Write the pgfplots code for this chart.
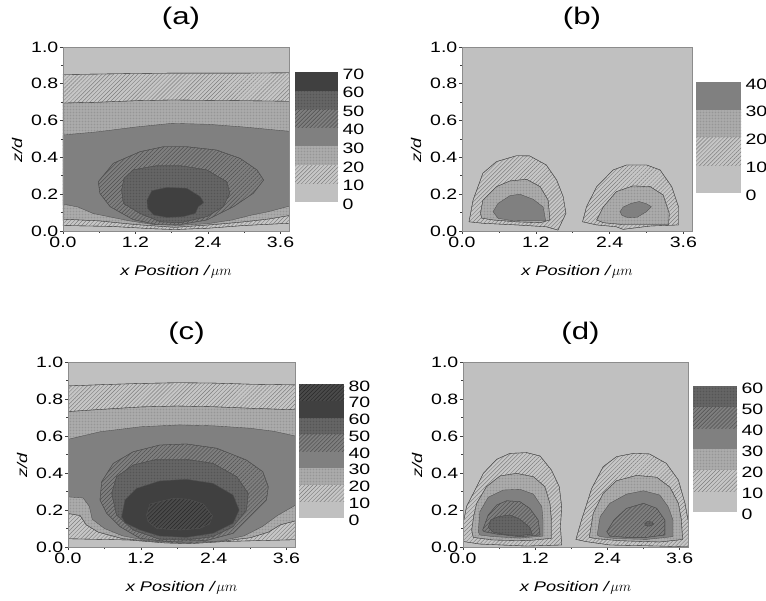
\documentclass[border=0pt]{standalone}
\usepackage{fontspec}
\setmainfont{Liberation Sans}[FakeStretch=1.3]
\usepackage{pgfplots}
\pgfplotsset{compat=1.18}
\usetikzlibrary{patterns.meta}

\definecolor{l0}{HTML}{C0C0C0}
\definecolor{l1}{HTML}{C6C6C6}
\definecolor{h1}{HTML}{7E7E7E}
\definecolor{l2}{HTML}{AEAEAE}
\definecolor{h2}{HTML}{8A8A8A}
\definecolor{l3}{HTML}{808080}
\definecolor{l4}{HTML}{7E7E7E}
\definecolor{h4}{HTML}{505050}
\definecolor{l5}{HTML}{686868}
\definecolor{h5}{HTML}{4C4C4C}
\definecolor{l6}{HTML}{404040}
\definecolor{l7}{HTML}{4A4A4A}
\definecolor{h7}{HTML}{2A2A2A}
\definecolor{cl}{HTML}{505050}
\definecolor{axgray}{HTML}{8C8C8C}

\tikzset{
  s0/.style={fill=l0},
  s1/.style={preaction={fill=l1}, pattern={Lines[angle=45,distance=2.8pt,line width=0.45pt]}, pattern color=h1},
  s2/.style={preaction={fill=l2}, pattern={Dots[distance=1.5pt,radius=0.4pt]}, pattern color=h2},
  s3/.style={fill=l3},
  s4/.style={preaction={fill=l4}, pattern={Lines[angle=45,distance=2.8pt,line width=0.5pt]}, pattern color=h4},
  s5/.style={preaction={fill=l5}, pattern={Dots[distance=1.5pt,radius=0.4pt]}, pattern color=h5},
  s6/.style={fill=l6},
  s7/.style={preaction={fill=l7}, pattern={Lines[angle=45,distance=2.8pt,line width=0.5pt]}, pattern color=h7},
  ct/.style={draw=cl, line width=0.35pt},
  bd/.style={draw=none},
}

\pgfplotsset{
  panel/.style={
    scale only axis, xmin=0, xmax=3.74, ymin=0, ymax=1,
    axis on top, axis background/.style={fill=l0},
    xtick={0,1.2,2.4,3.6}, xticklabels={0.0,1.2,2.4,3.6},
    ytick={0,0.2,0.4,0.6,0.8,1}, yticklabels={0.0,0.2,0.4,0.6,0.8,1.0},
    minor xtick={0.6,1.8,3.0}, minor ytick={0.1,0.3,0.5,0.7,0.9},
    tick align=outside, xtick pos=left, ytick pos=left,
    major tick length=3pt, minor tick length=2pt,
    axis line style={draw=axgray, line width=0.8pt},
    tick style={draw=black!75, line width=0.6pt},
    ticklabel style={font=\fontsize{15}{15}\selectfont, inner sep=1.5pt},
    xticklabel style={yshift=-1.5pt},
    xlabel={\textit{x Position /}$\mu m$},
    ylabel={\textit{z/d}},
    label style={font=\fontsize{14}{14}\selectfont},
    xlabel style={at={(axis description cs:0.5,0)}, anchor=center, yshift=-41pt},
    ylabel style={at={(axis description cs:0,0.5)}, anchor=center, yshift=46pt, xshift=-11pt},
    title style={font=\fontsize{24}{24}\selectfont, at={(axis description cs:0.5,1)}, anchor=center, yshift=23pt, xshift=5pt},
  },
  cbar/.style={
    scale only axis, xmin=0, xmax=1, ymin=0,
    axis line style={draw=none}, xtick=\empty, ytick distance=10,
    yticklabel pos=right, major tick length=0pt, tick style={draw=none},
    /pgf/number format/assume math mode=true,
    yticklabel style={font=\fontsize{15}{15}\selectfont, anchor=west, xshift=1pt, yshift=-2pt},
  },
}

\begin{document}
\begin{tikzpicture}
\path[use as bounding box] (0,0) rectangle (766pt,600pt);

% ---------- (a) ----------
\begin{axis}[panel, at={(63pt,369pt)}, anchor=south west, width=226pt, height=184pt, title={(a)}]
\addplot[s1, ct] coordinates {(-0.05,0.85) (0.6,0.853) (1.2,0.856) (1.8,0.858) (2.4,0.858) (3.0,0.858) (3.8,0.86)
  (3.8,0.043) (3.0,0.03) (2.4,0.015) (1.85,0.008) (1.5,0.012) (0.8,0.025) (-0.05,0.03)} -- cycle;
\addplot[s2, ct] coordinates {(-0.05,0.695) (0.6,0.70) (1.2,0.708) (1.8,0.712) (2.4,0.71) (3.0,0.708) (3.8,0.705)
  (3.8,0.087) (3.4,0.065) (3.0,0.05) (2.5,0.035) (1.85,0.02) (1.2,0.035) (0.6,0.055) (-0.05,0.065)} -- cycle;
\addplot[s3, ct] coordinates {(-0.05,0.52) (0.6,0.54) (1.2,0.565) (1.8,0.585) (2.4,0.58) (3.0,0.565) (3.8,0.54)
  (3.8,0.14) (3.4,0.105) (3.1,0.085) (2.8,0.06) (2.4,0.04) (1.9,0.03) (1.5,0.035) (1.1,0.055) (0.8,0.075) (0.5,0.095) (0.25,0.13) (-0.05,0.15)} -- cycle;
\addplot[s4, ct] coordinates {(0.585,0.268) (0.833,0.368) (1.275,0.431) (1.66,0.458) (2.05,0.458) (2.54,0.44) (2.93,0.395)
  (3.21,0.332) (3.32,0.277) (3.15,0.205) (2.82,0.132) (2.38,0.06) (1.94,0.035) (1.55,0.035) (1.16,0.062) (0.78,0.132) (0.61,0.205)} -- cycle;
\addplot[s5, ct] coordinates {(0.97,0.223) (1.01,0.286) (1.16,0.332) (1.55,0.355) (1.94,0.355) (2.38,0.332) (2.71,0.268)
  (2.76,0.205) (2.65,0.132) (2.38,0.078) (1.94,0.045) (1.61,0.05) (1.27,0.096) (1.0,0.15)} -- cycle;
\addplot[s6, ct] coordinates {(1.39,0.168) (1.47,0.219) (1.72,0.237) (2.05,0.232) (2.27,0.187) (2.33,0.154) (2.24,0.132)
  (2.19,0.096) (1.99,0.078) (1.72,0.074) (1.5,0.087) (1.40,0.123)} -- cycle;
\end{axis}
\begin{axis}[cbar, at={(295pt,398pt)}, anchor=south west, width=43pt, height=130pt, ymax=70]
\addplot[s0, bd] coordinates {(0,0) (1,0) (1,10) (0,10)} -- cycle;
\addplot[s1, bd] coordinates {(0,10) (1,10) (1,20) (0,20)} -- cycle;
\addplot[s2, bd] coordinates {(0,20) (1,20) (1,30) (0,30)} -- cycle;
\addplot[s3, bd] coordinates {(0,30) (1,30) (1,40) (0,40)} -- cycle;
\addplot[s4, bd] coordinates {(0,40) (1,40) (1,50) (0,50)} -- cycle;
\addplot[s5, bd] coordinates {(0,50) (1,50) (1,60) (0,60)} -- cycle;
\addplot[s6, bd] coordinates {(0,60) (1,60) (1,70) (0,70)} -- cycle;
\end{axis}

% ---------- (b) ----------
\begin{axis}[panel, at={(462pt,369pt)}, anchor=south west, width=230pt, height=184pt, title={(b)}]
\addplot[s1, ct] coordinates {(0.114,0.05) (0.18,0.168) (0.34,0.314) (0.56,0.377) (0.885,0.409) (1.10,0.408) (1.37,0.359)
  (1.54,0.277) (1.645,0.187) (1.69,0.096) (1.56,0.005) (1.37,0.023) (0.885,0.033) (0.34,0.042)} -- cycle;
\addplot[s2, ct] coordinates {(0.30,0.096) (0.34,0.168) (0.56,0.241) (0.78,0.272) (1.05,0.281) (1.27,0.241) (1.40,0.168)
  (1.43,0.06) (1.27,0.045) (0.885,0.05) (0.505,0.06) (0.32,0.07)} -- cycle;
\addplot[s3, ct] coordinates {(0.505,0.105) (0.586,0.15) (0.78,0.192) (0.94,0.20) (1.16,0.172) (1.32,0.13) (1.36,0.056)
  (1.05,0.055) (0.78,0.058) (0.586,0.069)} -- cycle;
\addplot[s1, ct] coordinates {(1.96,0.05) (2.025,0.132) (2.19,0.241) (2.46,0.332) (2.68,0.359) (3.0,0.359) (3.22,0.332)
  (3.41,0.241) (3.52,0.132) (3.52,0.033) (3.06,0.027) (2.62,0.009) (2.51,0.023) (2.19,0.033)} -- cycle;
\addplot[s2, ct] coordinates {(2.19,0.06) (2.30,0.132) (2.51,0.214) (2.78,0.245) (3.06,0.241) (3.27,0.196) (3.37,0.096)
  (3.36,0.035) (2.95,0.035) (2.62,0.035) (2.30,0.045)} -- cycle;
\addplot[s3, ct] coordinates {(2.57,0.105) (2.62,0.13) (2.75,0.15) (2.88,0.16) (3.0,0.148) (3.08,0.132) (3.0,0.105)
  (2.85,0.075) (2.7,0.072) (2.6,0.085)} -- cycle;
\end{axis}
\begin{axis}[cbar, at={(696pt,407pt)}, anchor=south west, width=45pt, height=111pt, ymax=40]
\addplot[s0, bd] coordinates {(0,0) (1,0) (1,10) (0,10)} -- cycle;
\addplot[s1, bd] coordinates {(0,10) (1,10) (1,20) (0,20)} -- cycle;
\addplot[s2, bd] coordinates {(0,20) (1,20) (1,30) (0,30)} -- cycle;
\addplot[s3, bd] coordinates {(0,30) (1,30) (1,40) (0,40)} -- cycle;
\end{axis}

% ---------- (c) ----------
\begin{axis}[panel, at={(68pt,53pt)}, anchor=south west, width=227pt, height=185pt, title={(c)}]
\addplot[s1, ct] coordinates {(-0.05,0.87) (0.6,0.878) (1.2,0.884) (1.8,0.888) (2.4,0.886) (3.0,0.88) (3.8,0.876)
  (3.8,0.04) (2.6,0.03) (2.0,0.018) (1.6,0.022) (1.0,0.038) (-0.05,0.045)} -- cycle;
\addplot[s2, ct] coordinates {(-0.05,0.731) (0.6,0.745) (1.2,0.757) (1.8,0.762) (2.4,0.758) (3.0,0.75) (3.8,0.741)
  (3.8,0.146) (3.5,0.12) (3.3,0.08) (3.0,0.05) (2.5,0.03) (1.9,0.022) (1.4,0.03) (0.9,0.045) (0.5,0.08) (0.3,0.12) (0.2,0.17) (-0.05,0.184)} -- cycle;
\addplot[s3, ct] coordinates {(-0.05,0.578) (0.53,0.623) (1.2,0.65) (1.84,0.66) (2.4,0.655) (3.0,0.642) (3.4,0.625) (3.8,0.596)
  (3.8,0.236) (3.45,0.17) (3.2,0.11) (2.9,0.06) (2.5,0.032) (1.9,0.025) (1.3,0.035) (0.9,0.06) (0.6,0.1) (0.4,0.15) (0.35,0.22) (0.25,0.265) (-0.05,0.272)} -- cycle;
\addplot[s4, ct] coordinates {(0.527,0.254) (0.555,0.353) (0.746,0.452) (1.075,0.515) (1.51,0.551) (1.95,0.557) (2.45,0.534)
  (2.94,0.47) (3.21,0.407) (3.30,0.326) (3.27,0.254) (3.05,0.182) (2.72,0.074) (2.28,0.035) (1.62,0.03) (1.185,0.047) (0.856,0.11) (0.637,0.182)} -- cycle;
\addplot[s5, ct] coordinates {(0.72,0.29) (0.80,0.38) (1.075,0.443) (1.46,0.474) (1.95,0.474) (2.39,0.452) (2.78,0.38)
  (2.97,0.29) (2.94,0.2) (2.72,0.11) (2.39,0.056) (1.95,0.038) (1.51,0.042) (1.075,0.092) (0.80,0.173)} -- cycle;
\addplot[s6, ct] coordinates {(0.884,0.164) (0.938,0.254) (1.13,0.317) (1.51,0.357) (1.95,0.366) (2.39,0.344) (2.72,0.281)
  (2.82,0.2) (2.72,0.128) (2.39,0.074) (1.95,0.052) (1.51,0.059) (1.185,0.092) (0.938,0.131)} -- cycle;
\addplot[s7, ct] coordinates {(1.295,0.173) (1.35,0.232) (1.51,0.245) (1.73,0.263) (1.98,0.258) (2.23,0.232) (2.38,0.168)
  (2.33,0.124) (2.17,0.101) (1.84,0.092) (1.46,0.101) (1.32,0.137)} -- cycle;
\end{axis}
\begin{axis}[cbar, at={(299pt,82pt)}, anchor=south west, width=45pt, height=134pt, ymax=80]
\addplot[s0, bd] coordinates {(0,0) (1,0) (1,10) (0,10)} -- cycle;
\addplot[s1, bd] coordinates {(0,10) (1,10) (1,20) (0,20)} -- cycle;
\addplot[s2, bd] coordinates {(0,20) (1,20) (1,30) (0,30)} -- cycle;
\addplot[s3, bd] coordinates {(0,30) (1,30) (1,40) (0,40)} -- cycle;
\addplot[s4, bd] coordinates {(0,40) (1,40) (1,50) (0,50)} -- cycle;
\addplot[s5, bd] coordinates {(0,50) (1,50) (1,60) (0,60)} -- cycle;
\addplot[s6, bd] coordinates {(0,60) (1,60) (1,70) (0,70)} -- cycle;
\addplot[s7, bd] coordinates {(0,70) (1,70) (1,80) (0,80)} -- cycle;
\end{axis}

% ---------- (d) ----------
\begin{axis}[panel, at={(463pt,53pt)}, anchor=south west, width=225pt, height=185pt, title={(d)}]
\addplot[s1, ct] coordinates {(0.0,0.03) (0.01,0.14) (0.06,0.22) (0.171,0.29) (0.337,0.398) (0.56,0.474) (0.78,0.506) (1.06,0.51)
  (1.28,0.492) (1.47,0.416) (1.6,0.326) (1.64,0.218) (1.62,0.11) (1.64,0.011) (1.06,0.005) (0.28,0.016)} -- cycle;
\addplot[s2, ct] coordinates {(0.144,0.092) (0.18,0.17) (0.227,0.236) (0.39,0.326) (0.615,0.384) (0.89,0.398) (1.17,0.38)
  (1.36,0.326) (1.445,0.236) (1.47,0.146) (1.47,0.047) (1.06,0.034) (0.5,0.038) (0.17,0.052)} -- cycle;
\addplot[s3, ct] coordinates {(0.254,0.083) (0.28,0.191) (0.42,0.269) (0.67,0.308) (0.947,0.312) (1.17,0.286) (1.31,0.218)
  (1.33,0.146) (1.33,0.059) (0.947,0.048) (0.5,0.056) (0.28,0.065)} -- cycle;
\addplot[s4, ct] coordinates {(0.327,0.092) (0.42,0.173) (0.56,0.227) (0.725,0.25) (0.947,0.245) (1.11,0.209) (1.25,0.146)
  (1.28,0.065) (0.947,0.056) (0.56,0.07) (0.35,0.083)} -- cycle;
\addplot[s5, ct] coordinates {(0.42,0.106) (0.46,0.146) (0.586,0.164) (0.78,0.173) (0.947,0.15) (1.11,0.106) (1.15,0.07)
  (0.947,0.062) (0.725,0.066) (0.5,0.08)} -- cycle;
\addplot[s1, ct] coordinates {(1.877,0.041) (1.97,0.146) (2.14,0.317) (2.33,0.434) (2.55,0.488) (2.83,0.506) (3.1,0.503)
  (3.38,0.452) (3.58,0.362) (3.69,0.236) (3.74,0.146) (3.8,0.146) (3.8,0.0) (3.27,0.005) (2.44,0.011) (2.05,0.029)} -- cycle;
\addplot[s2, ct] coordinates {(2.10,0.052) (2.165,0.182) (2.33,0.29) (2.55,0.358) (2.885,0.387) (3.22,0.377) (3.44,0.323)
  (3.58,0.236) (3.63,0.146) (3.65,0.041) (3.27,0.027) (2.61,0.034) (2.22,0.045)} -- cycle;
\addplot[s3, ct] coordinates {(2.23,0.065) (2.28,0.164) (2.44,0.236) (2.72,0.286) (3.0,0.304) (3.27,0.281) (3.41,0.218)
  (3.49,0.146) (3.49,0.056) (3.05,0.041) (2.55,0.045) (2.28,0.056)} -- cycle;
\addplot[s4, ct] coordinates {(2.39,0.083) (2.51,0.146) (2.72,0.209) (3.0,0.236) (3.22,0.209) (3.355,0.146) (3.355,0.065)
  (3.05,0.052) (2.72,0.052) (2.44,0.059)} -- cycle;
\addplot[s5, ct] coordinates {(3.02,0.125) (3.06,0.137) (3.14,0.135) (3.17,0.123) (3.1,0.113) (3.04,0.115)} -- cycle;
\end{axis}
\begin{axis}[cbar, at={(693pt,88pt)}, anchor=south west, width=44pt, height=126pt, ymax=60]
\addplot[s0, bd] coordinates {(0,0) (1,0) (1,10) (0,10)} -- cycle;
\addplot[s1, bd] coordinates {(0,10) (1,10) (1,20) (0,20)} -- cycle;
\addplot[s2, bd] coordinates {(0,20) (1,20) (1,30) (0,30)} -- cycle;
\addplot[s3, bd] coordinates {(0,30) (1,30) (1,40) (0,40)} -- cycle;
\addplot[s4, bd] coordinates {(0,40) (1,40) (1,50) (0,50)} -- cycle;
\addplot[s5, bd] coordinates {(0,50) (1,50) (1,60) (0,60)} -- cycle;
\end{axis}
\end{tikzpicture}
\end{document}
